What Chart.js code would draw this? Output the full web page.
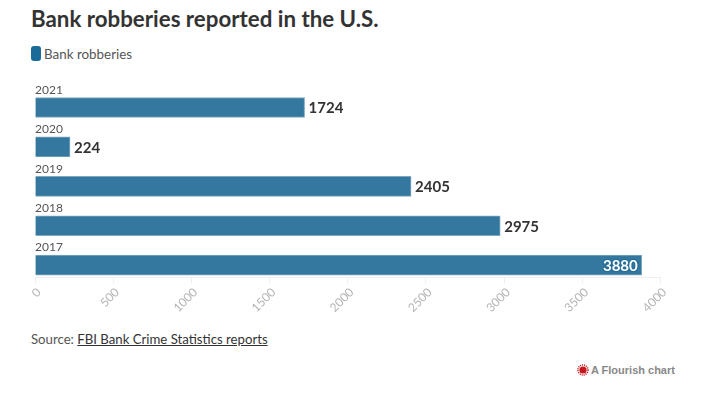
<!DOCTYPE html>
<html lang="en">

<head>
  <meta charset="UTF-8">
  <title>Bank robberies reported in the U.S.</title>
  <script src="https://cdn.jsdelivr.net/npm/chart.js"></script>
  <style>
    html, body { margin: 0; padding: 0; background: #fff; }
    body { width: 709px; height: 393px; position: relative; overflow: hidden; font-family: Lato, sans-serif; }
    #wrap { position: absolute; left: 0; top: 0; width: 709px; height: 330px; }
    h1 { position: absolute; left: 31px; top: 3px; margin: 0; font-size: 22.3px; line-height: 32px; font-weight: 700; color: #333; white-space: nowrap; }
    #legend { position: absolute; left: 31px; top: 45px; font-size: 13.4px; line-height: 18px; color: #555; white-space: nowrap; }
    #legend i { position: absolute; left: 0; top: 1px; width: 10px; height: 15px; border-radius: 3px; background: #1a6b98; }
    #legend span { margin-left: 13px; }
    #source { position: absolute; left: 31px; top: 330px; font-size: 13.2px; line-height: 18px; color: #555; white-space: nowrap; }
    #source a { color: #333; text-decoration: underline; }
    #credit { position: absolute; left: 577px; top: 363px; font: bold 11px/14px "Liberation Sans", sans-serif; color: #888; white-space: nowrap; }
    #credit svg { position: absolute; left: 0; top: 1px; }
    #credit span { margin-left: 14px; }
  </style>
</head>

<body>
  <h1>Bank robberies reported in the U.S.</h1>
  <div id="legend"><i></i><span>Bank robberies</span></div>
  <div id="wrap"><canvas id="grafico"></canvas></div>
  <div id="source">Source: <a href="#">FBI Bank Crime Statistics reports</a></div>
  <div id="credit">
    <svg width="12" height="12" viewBox="0 0 12 12">
      <circle cx="6" cy="6" r="3.6" fill="#c4161c"></circle>
      <circle cx="6" cy="6" r="5" fill="none" stroke="#c4161c" stroke-width="1.6" stroke-dasharray="1 1"></circle>
    </svg>
    <span>A Flourish chart</span>
  </div>
  <script>
    const years = [2021, 2020, 2019, 2018, 2017];
    const robberies = [1724, 224, 2405, 2975, 3880];
    const xTicks = [0, 500, 1000, 1500, 2000, 2500, 3000, 3500, 4000];

    const barColor = '#35789f';
    const labelFont = '700 15px Lato, sans-serif';

    // years above the bars and the values beside them
    const barLabels = {
      id: 'barLabels',
      afterDatasetsDraw(chart) {
        const ctx = chart.ctx;
        const bars = chart.getDatasetMeta(0).data;
        ctx.save();
        ctx.textBaseline = 'middle';
        bars.forEach((bar, i) => {
          ctx.font = '12px Lato, sans-serif';
          ctx.textAlign = 'left';
          ctx.fillStyle = '#555';
          ctx.fillText(String(years[i]), chart.chartArea.left, bar.y - 17.5);

          ctx.font = labelFont;
          const text = String(robberies[i]);
          const inside = ctx.measureText(text).width + 12 > chart.chartArea.right - bar.x;
          if (inside) {
            ctx.textAlign = 'right';
            ctx.lineWidth = 2.5;
            ctx.lineJoin = 'round';
            ctx.strokeStyle = '#256d97';
            ctx.strokeText(text, bar.x - 4, bar.y + 1);
            ctx.fillStyle = '#fff';
            ctx.fillText(text, bar.x - 4, bar.y + 1);
          } else {
            ctx.textAlign = 'left';
            ctx.fillStyle = '#333';
            ctx.fillText(text, bar.x + 4, bar.y + 1);
          }
        });
        ctx.restore();
      }
    };

    new Chart(document.getElementById('grafico').getContext('2d'), {
      type: 'bar',
      data: {
        datasets: [{
          label: 'Bank robberies',
          data: years.map((y, i) => ({ x: robberies[i], y: y })),
          backgroundColor: barColor,
          borderColor: '#7ea8c1',
          borderWidth: 1,
          barThickness: 20
        }]
      },
      options: {
        indexAxis: 'y',
        responsive: true,
        maintainAspectRatio: false,
        animation: false,
        layout: { padding: { left: 35, right: 48.5, top: 87, bottom: 13 } },
        plugins: { legend: { display: false }, title: { display: false }, tooltip: { enabled: false } },
        scales: {
          x: {
            type: 'linear',
            min: 0,
            max: 4000,
            afterBuildTicks(axis) { axis.ticks = xTicks.map(v => ({ value: v })); },
            grid: { drawOnChartArea: false, drawTicks: true, tickLength: 6, color: '#eeeeee' },
            border: { color: '#eeeeee' },
            ticks: {
              minRotation: 45,
              maxRotation: 45,
              padding: 2,
              labelOffset: 4,
              color: '#b5b5b5',
              font: { family: 'Lato', size: 12 },
              callback: v => String(v)
            }
          },
          y: {
            type: 'linear',
            display: false,
            offset: false,
            min: 2016.695,
            max: 2021.52
          }
        }
      },
      plugins: [barLabels]
    });
  </script>
</body>

</html>
